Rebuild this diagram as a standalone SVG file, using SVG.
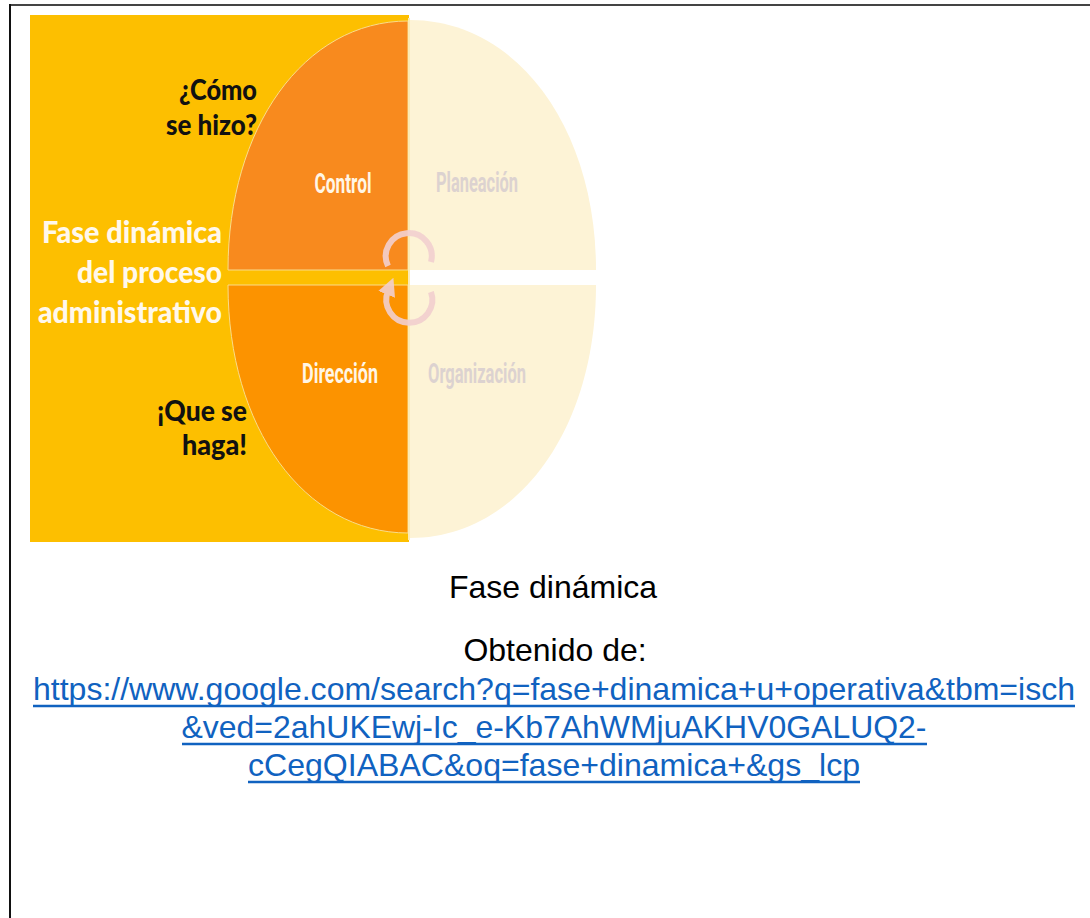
<svg xmlns="http://www.w3.org/2000/svg" width="1090" height="918" viewBox="0 0 1090 918">
  <defs>
    <style>
      .q { font-family: Lato, "Open Sans", sans-serif; font-weight: 900; fill: #111111; font-size: 28px; text-anchor: end; }
      .t { font-family: Lato, "Open Sans", sans-serif; font-weight: 900; fill: #FFF8EC; font-size: 31px; text-anchor: end; }
      .ph { font-family: Roboto, "Liberation Sans", sans-serif; font-weight: 700; font-size: 27px; text-anchor: middle; }
      .ph-on { fill: #FFF6E6; }
      .ph-off { fill: #DCD2D0; }
      .cap { font-family: "Liberation Sans", Arial, sans-serif; font-size: 32px; fill: #000000; text-anchor: middle; }
      .link { font-family: "Liberation Sans", Arial, sans-serif; font-size: 32px; fill: #1062C0; text-anchor: middle; }
      .ul { stroke: #1062C0; stroke-width: 2.5; }
      .cyc { fill: none; stroke: #F2CFCF; stroke-width: 6; stroke-linecap: butt; opacity: 0.9; }
    </style>
    <marker id="ah" viewBox="0 0 10 10" refX="2" refY="5" markerWidth="3" markerHeight="3" orient="auto" markerUnits="strokeWidth">
      <path d="M0,0 L10,5 L0,10 Z" fill="#F2CFCF"/>
    </marker>
  </defs>

  <rect width="1090" height="918" fill="#FFFFFF"/>

  <g id="page-border">
    <line x1="10" y1="5" x2="1090" y2="5" stroke="#444444" stroke-width="2"/>
    <line x1="10" y1="4" x2="10" y2="918" stroke="#111111" stroke-width="2"/>
  </g>

  <g id="poster-background">
    <rect x="30" y="15" width="379" height="527" fill="#FDBF00"/>
  </g>

  <g id="node-control">
    <path d="M408,21 C304,21 228,128 228,270 L408,270 Z" fill="#F88A1E" stroke="#F9DC8A" stroke-width="1"/>
    <text class="ph ph-on" x="343" y="193" textLength="57" lengthAdjust="spacingAndGlyphs">Control</text>
  </g>

  <g id="node-direccion">
    <path d="M228,285 C228,427 304,533 408,533 L408,285 Z" fill="#FC9300" stroke="#F9DC8A" stroke-width="1"/>
    <text class="ph ph-on" x="340" y="383" textLength="76" lengthAdjust="spacingAndGlyphs">Dirección</text>
  </g>

  <g id="node-planeacion">
    <path d="M410,20 C517,20 596,128 596,270 L410,270 Z" fill="#FDF3D6"/>
    <text class="ph ph-off" x="477" y="192" textLength="82" lengthAdjust="spacingAndGlyphs">Planeación</text>
  </g>

  <g id="node-organizacion">
    <path d="M596,285 C596,430 517,538 410,538 L410,285 Z" fill="#FDF3D6"/>
    <text class="ph ph-off" x="477" y="383" textLength="98" lengthAdjust="spacingAndGlyphs">Organización</text>
  </g>

  <g id="divider">
    <line x1="409" y1="18" x2="409" y2="540" stroke="#FBEBB5" stroke-width="2"/>
  </g>

  <g id="connectors">
    <path class="cyc" d="M388,266 A23,23 0 1 1 431,262"/>
    <path class="cyc" d="M431,292 A23,23 0 1 1 388,291" marker-end="url(#ah)"/>
  </g>

  <g id="questions">
    <text class="q" x="257" y="100" textLength="78" lengthAdjust="spacingAndGlyphs">¿Cómo</text>
    <text class="q" x="257" y="135" textLength="91" lengthAdjust="spacingAndGlyphs">se hizo?</text>
    <text class="q" x="247" y="421" textLength="90" lengthAdjust="spacingAndGlyphs">¡Que se</text>
    <text class="q" x="247" y="455" textLength="65" lengthAdjust="spacingAndGlyphs">haga!</text>
  </g>

  <g id="title">
    <text class="t" x="222" y="243" textLength="180" lengthAdjust="spacingAndGlyphs">Fase dinámica</text>
    <text class="t" x="222" y="283" textLength="145" lengthAdjust="spacingAndGlyphs">del proceso</text>
    <text class="t" x="222" y="323" textLength="184" lengthAdjust="spacingAndGlyphs">administrativo</text>
  </g>

  <g id="caption">
    <text class="cap" x="553" y="598">Fase dinámica</text>
    <text class="cap" x="555" y="661">Obtenido de:</text>
    <text class="link" x="554" y="700" textLength="1042" lengthAdjust="spacingAndGlyphs">https://www.google.com/search?q=fase+dinamica+u+operativa&amp;tbm=isch</text>
    <line class="ul" x1="33" y1="706" x2="1075" y2="706"/>
    <text class="link" x="554" y="738" textLength="745" lengthAdjust="spacingAndGlyphs">&amp;ved=2ahUKEwj-Ic_e-Kb7AhWMjuAKHV0GALUQ2-</text>
    <line class="ul" x1="182" y1="744" x2="927" y2="744"/>
    <text class="link" x="554" y="776" textLength="612" lengthAdjust="spacingAndGlyphs">cCegQIABAC&amp;oq=fase+dinamica+&amp;gs_lcp</text>
    <line class="ul" x1="248" y1="782" x2="860" y2="782"/>
  </g>
</svg>
